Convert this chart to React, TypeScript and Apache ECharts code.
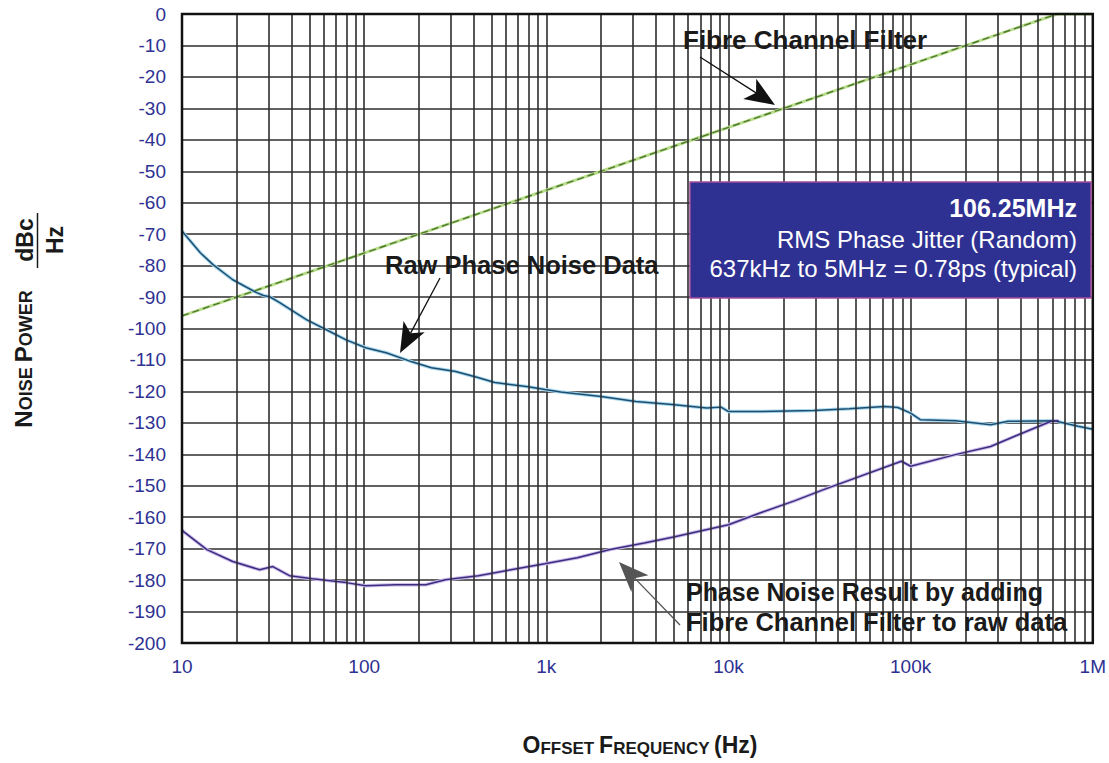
import React, { useEffect, useRef } from "react";
import * as echarts from "echarts";

// ---- Data ----
const xTickValues = [10, 100, 1000, 10000, 100000, 1000000];
const xTickLabels = ["10", "100", "1k", "10k", "100k", "1M"];

const filterFreq = [10, 637000, 1000000];
const filterPower = [-96, 0, 0];

const rawFreq = [
  10, 10.4, 12.6, 14.8, 19, 25.7, 28, 30.3, 34.4, 48.2, 62, 79.6, 102, 132, 183, 234, 318, 421, 522,
  794, 982, 1200, 2000, 3100, 4900, 7600, 9100, 10000, 15000, 29500, 46000, 72000, 85000, 100000,
  113000, 176000, 275000, 343000, 613000, 830000, 1000000,
];
const rawPower = [
  -69, -70.2, -75.9, -79.7, -84.5, -88.6, -89.5, -89.9, -91.8, -97.2, -100.4, -103.6, -106.1, -107.7,
  -110.6, -112.5, -113.7, -115.6, -117.2, -118.5, -119.4, -120.2, -121.6, -123.2, -124.2, -125.3,
  -125, -126.4, -126.4, -126.1, -125.5, -124.8, -125.1, -126.9, -129, -129.3, -130.6, -129.5, -129.3,
  -131.1, -132,
];

const resultFreq = [
  10, 10.2, 13.7, 19, 26.7, 31.5, 38.9, 52, 79.5, 102, 149, 218, 279, 424, 640, 980, 1480, 2240, 3450,
  5000, 10000, 15000, 23000, 33000, 89000, 100000, 176000, 275000, 390000, 590000, 650000,
];
const resultPower = [
  -164, -164.6, -170.3, -174.1, -176.7, -175.7, -178.6, -179.6, -180.8, -181.8, -181.5, -181.5,
  -179.9, -178.6, -176.7, -174.8, -172.9, -170.3, -168.2, -166.3, -162.4, -158.6, -154.8, -151.3,
  -142.2, -143.8, -140.1, -137.5, -133.8, -129.5, -129.3,
];

const minorMultipliers = [2, 3, 4, 5, 6, 7, 8, 9];

const FONT = "'Liberation Sans', Arial, Helvetica, sans-serif";
const NAVY = "#2e3192";

function pairs(xs: number[], ys: number[]) {
  return xs.map((x, i) => [x, ys[i]]);
}

function arrow(tail: number[], tip: number[], color: string, len = 30, half = 12) {
  const dx = tip[0] - tail[0];
  const dy = tip[1] - tail[1];
  const L = Math.hypot(dx, dy);
  const ux = dx / L;
  const uy = dy / L;
  const px = -uy;
  const py = ux;
  const bc = [tip[0] - ux * len, tip[1] - uy * len];
  const inner = [tip[0] - ux * len * 0.75, tip[1] - uy * len * 0.75];
  return [
    {
      type: "line",
      shape: { x1: tail[0], y1: tail[1], x2: inner[0], y2: inner[1] },
      style: { stroke: color, lineWidth: 1.3 },
      z: 50,
    },
    {
      type: "polygon",
      shape: {
        points: [
          tip,
          [bc[0] + px * half, bc[1] + py * half],
          inner,
          [bc[0] - px * half, bc[1] - py * half],
        ],
      },
      style: { fill: color },
      z: 50,
    },
  ];
}

function annotation(text: string, x: number, y: number, size: number) {
  return {
    type: "text",
    x,
    y,
    z: 50,
    style: {
      text,
      align: "left",
      verticalAlign: "middle",
      fontSize: size,
      fontWeight: "bold",
      fontFamily: FONT,
      fill: "#1a1a1a",
    },
  };
}

export default function App() {
  const ref = useRef<HTMLDivElement>(null);

  useEffect(() => {
    if (!ref.current) return;
    const chart = echarts.init(ref.current, undefined, { renderer: "svg" });

    const minorLines: any[] = [];
    for (let d = 10; d < 1000000; d *= 10) {
      minorMultipliers.forEach((m) => minorLines.push({ xAxis: d * m }));
    }

    const gridLine = { color: "#2e2e2e", width: 1.6 };

    const capStyle = (size: number) => ({
      fontSize: size,
      fontWeight: "bold",
      fontFamily: FONT,
      fill: "#1a1a1a",
      verticalAlign: "bottom",
    });

    const option: any = {
      animation: false,
      backgroundColor: "#ffffff",
      grid: {
        left: 182,
        top: 14,
        right: 10,
        bottom: 120,
        show: true,
        borderColor: "#111",
        borderWidth: 2.5,
        backgroundColor: "transparent",
        z: 10,
      },
      xAxis: {
        type: "log",
        logBase: 10,
        min: 10,
        max: 1000000,
        splitNumber: 5,
        axisLine: { show: false },
        axisTick: { show: false },
        axisLabel: {
          color: NAVY,
          fontFamily: FONT,
          fontSize: 19,
          margin: 14,
          formatter: (v: number) => {
            const i = xTickValues.findIndex((t) => Math.abs(Math.log10(t) - Math.log10(v)) < 1e-6);
            return i >= 0 ? xTickLabels[i] : "";
          },
        },
        splitLine: { show: true, lineStyle: gridLine },
      },
      yAxis: {
        type: "value",
        min: -200,
        max: 0,
        interval: 10,
        axisLine: { show: false },
        axisTick: { show: false },
        axisLabel: { color: NAVY, fontFamily: FONT, fontSize: 19, margin: 16 },
        splitLine: { show: true, lineStyle: gridLine },
      },
      series: [
        {
          type: "line",
          name: "grid",
          z: 1,
          silent: true,
          showSymbol: false,
          data: pairs(filterFreq, filterPower),
          lineStyle: { opacity: 0 },
          markLine: {
            silent: true,
            symbol: "none",
            label: { show: false },
            lineStyle: { color: "#2e2e2e", width: 1.6, type: "solid" },
            data: minorLines,
          },
        },
        {
          type: "line",
          name: "Fibre Channel Filter halo",
          showSymbol: false,
          z: 3,
          data: pairs(filterFreq, filterPower),
          lineStyle: { color: "#b9dc8c", width: 3 },
        },
        {
          type: "line",
          name: "Fibre Channel Filter",
          showSymbol: false,
          z: 4,
          data: pairs(filterFreq, filterPower),
          lineStyle: { color: "#4d7a2c", width: 1.4, type: [7, 4] },
        },
        {
          type: "line",
          name: "Raw Phase Noise Data halo",
          showSymbol: false,
          z: 3,
          data: pairs(rawFreq, rawPower),
          lineStyle: { color: "#a6d9ee", width: 3.5 },
        },
        {
          type: "line",
          name: "Raw Phase Noise Data",
          showSymbol: false,
          z: 4,
          data: pairs(rawFreq, rawPower),
          lineStyle: { color: "#1f4d70", width: 1.5 },
        },
        {
          type: "line",
          name: "Phase Noise Result halo",
          showSymbol: false,
          z: 3,
          data: pairs(resultFreq, resultPower),
          lineStyle: { color: "#cdbbea", width: 3.5 },
        },
        {
          type: "line",
          name: "Phase Noise Result",
          showSymbol: false,
          z: 4,
          data: pairs(resultFreq, resultPower),
          lineStyle: { color: "#3a2d80", width: 1.5 },
        },
      ],
      graphic: [
        // Y axis title
        {
          type: "text",
          x: 23,
          y: 359,
          rotation: Math.PI / 2,
          style: {
            text: "{c|N}{s|OISE }{c|P}{s|OWER}",
            align: "center",
            verticalAlign: "middle",
            fill: "#1a1a1a",
            rich: { c: capStyle(24), s: capStyle(18) },
          },
        },
        {
          type: "text",
          x: 25,
          y: 240,
          rotation: Math.PI / 2,
          style: {
            text: "dBc",
            align: "center",
            verticalAlign: "middle",
            fontSize: 23,
            fontWeight: "bold",
            fontFamily: FONT,
            fill: "#1a1a1a",
          },
        },
        {
          type: "line",
          shape: { x1: 37.5, y1: 213, x2: 37.5, y2: 268 },
          style: { stroke: "#1a1a1a", lineWidth: 1.5 },
        },
        {
          type: "text",
          x: 55,
          y: 240,
          rotation: Math.PI / 2,
          style: {
            text: "Hz",
            align: "center",
            verticalAlign: "middle",
            fontSize: 23,
            fontWeight: "bold",
            fontFamily: FONT,
            fill: "#1a1a1a",
          },
        },
        // X axis title
        {
          type: "text",
          x: 640,
          y: 745,
          style: {
            text: "{c|O}{s|FFSET }{c|F}{s|REQUENCY }{c|(Hz)}",
            align: "center",
            verticalAlign: "middle",
            fill: "#1a1a1a",
            rich: { c: capStyle(23), s: capStyle(17) },
          },
        },
        // Annotations
        annotation("Fibre Channel Filter", 683, 40, 26),
        ...arrow([700, 57], [775, 105], "#111"),
        annotation("Raw Phase Noise Data", 385, 265, 25.5),
        ...arrow([440, 278], [400, 353], "#111"),
        annotation("Phase Noise Result by adding", 686, 592, 25),
        annotation("Fibre Channel Filter to raw data", 686, 622, 25.5),
        ...arrow([680, 625], [619, 562], "#555"),
        // Info box
        {
          type: "rect",
          z: 60,
          shape: { x: 690, y: 182, width: 401, height: 116 },
          style: { fill: NAVY, stroke: "#a24c9e", lineWidth: 1.5 },
        },
        {
          type: "text",
          z: 61,
          x: 1077,
          y: 208,
          style: {
            text: "106.25MHz",
            align: "right",
            verticalAlign: "middle",
            fontSize: 25,
            fontWeight: "bold",
            fontFamily: FONT,
            fill: "#ffffff",
          },
        },
        {
          type: "text",
          z: 61,
          x: 1077,
          y: 239,
          style: {
            text: "RMS Phase Jitter (Random)",
            align: "right",
            verticalAlign: "middle",
            fontSize: 24,
            fontFamily: FONT,
            fill: "#ffffff",
          },
        },
        {
          type: "text",
          z: 61,
          x: 1077,
          y: 268,
          style: {
            text: "637kHz to 5MHz = 0.78ps (typical)",
            align: "right",
            verticalAlign: "middle",
            fontSize: 24,
            fontFamily: FONT,
            fill: "#ffffff",
          },
        },
      ],
    };

    chart.setOption(option);
    return () => chart.dispose();
  }, []);

  return (
    <div
      ref={ref}
      style={{ position: "fixed", left: 0, top: 0, width: 1109, height: 763, background: "#fff" }}
    />
  );
}
